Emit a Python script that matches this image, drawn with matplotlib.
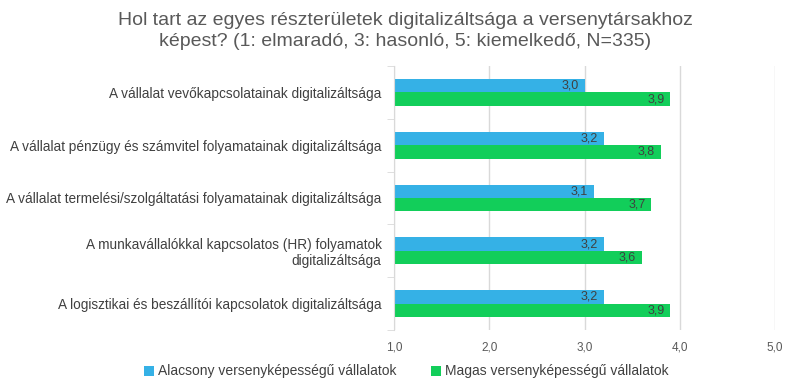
import numpy as np
import matplotlib.pyplot as plt

plt.rcParams['font.family'] = ['Liberation Sans', 'DejaVu Sans']

categories = [
    "A vállalat vevőkapcsolatainak digitalizáltsága",
    "A vállalat pénzügy és számvitel folyamatainak digitalizáltsága",
    "A vállalat termelési/szolgáltatási folyamatainak digitalizáltsága",
    "A munkavállalókkal kapcsolatos (HR) folyamatok\ndigitalizáltsága",
    "A logisztikai és beszállítói kapcsolatok digitalizáltsága",
]
low_values = [3.0, 3.2, 3.1, 3.2, 3.2]
high_values = [3.9, 3.8, 3.7, 3.6, 3.9]
series_names = ["Alacsony versenyképességű vállalatok", "Magas versenyképességű vállalatok"]
x_ticks = [1.0, 2.0, 3.0, 4.0, 5.0]

blue = '#35B1E6'
green = '#12CE5A'
text_col = '#404040'

fig = plt.figure(figsize=(7.91, 3.91), dpi=100)
ax = fig.add_axes([394 / 791, 1 - 330 / 391, (775 - 394) / 791, (330 - 66) / 391])

y = np.arange(len(categories))
h = 0.255
b1 = ax.barh(y - h / 2, np.array(low_values) - 1, left=1, height=h, color=blue, label=series_names[0])
b2 = ax.barh(y + h / 2, np.array(high_values) - 1, left=1, height=h, color=green, label=series_names[1])

for bars, vals in ((b1, low_values), (b2, high_values)):
    for bar, v in zip(bars, vals):
        ax.text(v - 0.06, bar.get_y() + bar.get_height() / 2, f"{v:.1f}".replace('.', ','),
                ha='right', va='center', fontsize=9, color=text_col)

ax.set_xlim(1, 5)
ax.set_ylim(len(categories) - 0.5, -0.5)
ax.set_xticks(x_ticks)
ax.set_xticklabels([f"{t:.1f}".replace('.', ',') for t in x_ticks], fontsize=8.5, color='#595959')
ax.tick_params(axis='x', length=0, pad=8)
ax.grid(axis='x', color='#D9D9D9', linewidth=1)
ax.set_axisbelow(True)

ax.set_yticks(y)
ax.set_yticklabels(categories, fontsize=9.8, color=text_col, ha='right')
ax.tick_params(axis='y', length=0, pad=9)
ax.set_yticks(np.arange(-0.5, len(categories), 1), minor=True)
ax.tick_params(axis='y', which='minor', length=5, color='#D9D9D9')

for s in ['top', 'right', 'bottom']:
    ax.spines[s].set_visible(False)
ax.spines['left'].set_color('#D9D9D9')

fig.suptitle("Hol tart az egyes részterületek digitalizáltsága a versenytársakhoz\nképest? (1: elmaradó, 3: hasonló, 5: kiemelkedő, N=335)",
             fontsize=14, color='#595959', y=0.97, x=0.512, linespacing=1.35)

fig.legend(loc='lower center', bbox_to_anchor=(0.514, 0.0), ncol=2, frameon=False,
           fontsize=10, handlelength=0.7, handleheight=0.7, columnspacing=2.5, handletextpad=0.3,
           labelcolor=text_col)

fig.savefig('out.png', dpi=100)
